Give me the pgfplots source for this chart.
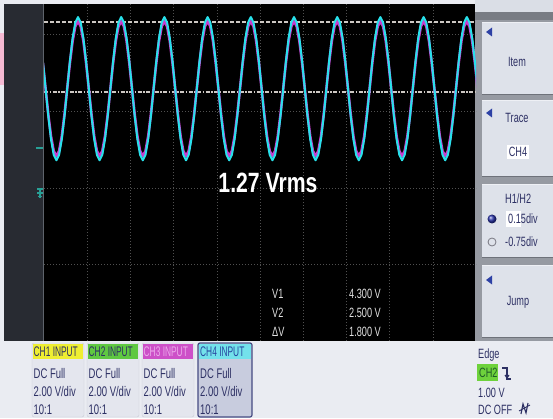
\documentclass[border=0pt]{standalone}
\usepackage{pgfplots}
\pgfplotsset{compat=1.18}
\usepackage{pgfplotstable}
\usepackage{fontspec}
\setmainfont{Liberation Sans}
\newfontfamily\narrow[FakeStretch=0.68]{Liberation Sans}
\newfontfamily\narrowh[FakeStretch=0.6]{Liberation Sans}
\newfontfamily\vrmsfont[FakeStretch=0.76]{Liberation Sans}

\definecolor{panel}{RGB}{234,236,242}
\definecolor{lstrip}{RGB}{40,43,50}
\definecolor{btn}{RGB}{222,226,234}
\definecolor{navy}{RGB}{45,48,100}
\definecolor{tcyan}{RGB}{40,225,235}
\definecolor{tmag}{RGB}{200,60,205}
\definecolor{curs}{RGB}{205,200,195}
\definecolor{gridc}{RGB}{80,80,80}
\definecolor{chA}{RGB}{238,238,50}
\definecolor{chB}{RGB}{95,200,65}
\definecolor{chC}{RGB}{205,80,200}
\definecolor{chD}{RGB}{115,225,235}
\definecolor{boxfill}{RGB}{228,230,238}
\definecolor{boxedge}{RGB}{200,202,212}
\definecolor{teal}{RGB}{40,160,150}
\definecolor{readout}{RGB}{225,225,225}
\definecolor{trig}{RGB}{45,65,165}
\definecolor{pinkbar}{RGB}{245,185,210}
\definecolor{sepline}{RGB}{95,100,108}
\definecolor{rpgray}{RGB}{150,154,162}
\definecolor{rptop}{RGB}{218,222,230}
\definecolor{rpband}{RGB}{120,124,132}
\definecolor{btnshadow}{RGB}{110,114,122}
\definecolor{btnhi}{RGB}{238,240,245}
\definecolor{chCtxt}{RGB}{235,170,235}
\definecolor{chDfill}{RGB}{200,204,222}
\definecolor{chDedge}{RGB}{70,75,130}
\definecolor{chDtxt}{RGB}{40,70,160}
\definecolor{trigbox}{RGB}{110,210,60}
\definecolor{chBtxt}{RGB}{30,90,40}
\definecolor{ballc}{RGB}{40,50,170}
\definecolor{circc}{RGB}{120,120,130}

\pgfplotstableread{
x ch4 ch3
-0.0255 2.64 2.60
0.037 1.99 1.99
0.0995 1.34 1.38
0.162 0.79 0.86
0.2245 0.42 0.51
0.287 0.29 0.39
0.3495 0.42 0.51
0.412 0.79 0.86
0.4745 1.34 1.38
0.537 1.99 1.99
0.5995 2.64 2.60
0.662 3.19 3.12
0.7245 3.56 3.47
0.787 3.69 3.59
0.8495 3.56 3.47
0.912 3.19 3.12
0.9745 2.64 2.60
1.037 1.99 1.99
1.0995 1.34 1.38
1.162 0.79 0.86
1.2245 0.42 0.51
1.287 0.29 0.39
1.3495 0.42 0.51
1.412 0.79 0.86
1.4745 1.34 1.38
1.537 1.99 1.99
1.5995 2.64 2.60
1.662 3.19 3.12
1.7245 3.56 3.47
1.787 3.69 3.59
1.8495 3.56 3.47
1.912 3.19 3.12
1.9745 2.64 2.60
2.037 1.99 1.99
2.0995 1.34 1.38
2.162 0.79 0.86
2.2245 0.42 0.51
2.287 0.29 0.39
2.3495 0.42 0.51
2.412 0.79 0.86
2.4745 1.34 1.38
2.537 1.99 1.99
2.5995 2.64 2.60
2.662 3.19 3.12
2.7245 3.56 3.47
2.787 3.69 3.59
2.8495 3.56 3.47
2.912 3.19 3.12
2.9745 2.64 2.60
3.037 1.99 1.99
3.0995 1.34 1.38
3.162 0.79 0.86
3.2245 0.42 0.51
3.287 0.29 0.39
3.3495 0.42 0.51
3.412 0.79 0.86
3.4745 1.34 1.38
3.537 1.99 1.99
3.5995 2.64 2.60
3.662 3.19 3.12
3.7245 3.56 3.47
3.787 3.69 3.59
3.8495 3.56 3.47
3.912 3.19 3.12
3.9745 2.64 2.60
4.037 1.99 1.99
4.0995 1.34 1.38
4.162 0.79 0.86
4.2245 0.42 0.51
4.287 0.29 0.39
4.3495 0.42 0.51
4.412 0.79 0.86
4.4745 1.34 1.38
4.537 1.99 1.99
4.5995 2.64 2.60
4.662 3.19 3.12
4.7245 3.56 3.47
4.787 3.69 3.59
4.8495 3.56 3.47
4.912 3.19 3.12
4.9745 2.64 2.60
5.037 1.99 1.99
5.0995 1.34 1.38
5.162 0.79 0.86
5.2245 0.42 0.51
5.287 0.29 0.39
5.3495 0.42 0.51
5.412 0.79 0.86
5.4745 1.34 1.38
5.537 1.99 1.99
5.5995 2.64 2.60
5.662 3.19 3.12
5.7245 3.56 3.47
5.787 3.69 3.59
5.8495 3.56 3.47
5.912 3.19 3.12
5.9745 2.64 2.60
6.037 1.99 1.99
6.0995 1.34 1.38
6.162 0.79 0.86
6.2245 0.42 0.51
6.287 0.29 0.39
6.3495 0.42 0.51
6.412 0.79 0.86
6.4745 1.34 1.38
6.537 1.99 1.99
6.5995 2.64 2.60
6.662 3.19 3.12
6.7245 3.56 3.47
6.787 3.69 3.59
6.8495 3.56 3.47
6.912 3.19 3.12
6.9745 2.64 2.60
7.037 1.99 1.99
7.0995 1.34 1.38
7.162 0.79 0.86
7.2245 0.42 0.51
7.287 0.29 0.39
7.3495 0.42 0.51
7.412 0.79 0.86
7.4745 1.34 1.38
7.537 1.99 1.99
7.5995 2.64 2.60
7.662 3.19 3.12
7.7245 3.56 3.47
7.787 3.69 3.59
7.8495 3.56 3.47
7.912 3.19 3.12
7.9745 2.64 2.60
8.037 1.99 1.99
8.0995 1.34 1.38
8.162 0.79 0.86
8.2245 0.42 0.51
8.287 0.29 0.39
8.3495 0.42 0.51
8.412 0.79 0.86
8.4745 1.34 1.38
8.537 1.99 1.99
8.5995 2.64 2.60
8.662 3.19 3.12
8.7245 3.56 3.47
8.787 3.69 3.59
8.8495 3.56 3.47
8.912 3.19 3.12
8.9745 2.64 2.60
9.037 1.99 1.99
9.0995 1.34 1.38
9.162 0.79 0.86
9.2245 0.42 0.51
9.287 0.29 0.39
9.3495 0.42 0.51
9.412 0.79 0.86
9.4745 1.34 1.38
9.537 1.99 1.99
9.5995 2.64 2.60
9.662 3.19 3.12
9.7245 3.56 3.47
9.787 3.69 3.59
9.8495 3.56 3.47
9.912 3.19 3.12
9.9745 2.64 2.60
10.037 1.99 1.99
}\wave

\begin{document}
\begin{tikzpicture}[x=1bp,y=1bp]
\path[use as bounding box] (0,0) rectangle (553,418);
\begin{scope}[yshift=418bp,yscale=-1]
  % backgrounds
  \fill[panel] (0,0) rectangle (553,418);
  \fill[pinkbar] (0,33) rectangle (4,85);
  \fill[lstrip] (4,4) rectangle (43,341);
  \fill[sepline] (43,4) rectangle (44,341);
  \fill[black] (44,4) rectangle (476,341);
  % right panel
  \fill[rpgray] (475,0) rectangle (553,341);
  \fill[rptop] (475,0) rectangle (553,12);
  \fill[rpband] (475,12) rectangle (553,20);
  \foreach \ya/\yb in {22/94,100/176,184/257,265/337}{
    \fill[btnshadow] (482,\ya+1) rectangle (553,\yb+1);
    \fill[btn] (482,\ya) rectangle (553,\yb);
    \fill[btnhi] (482,\ya) rectangle (553,\ya+1.2);
  }
  \foreach \yt in {32,113,280}{
    \fill[trig] (486,\yt) -- (492,\yt-4.5) -- (492,\yt+4.5) -- cycle;
  }
  % left markers
  \draw[teal,line width=2bp] (36,148) -- (43,148);
  \draw[teal,line width=1.3bp] (37,189) -- (43,189) (40,189) -- (40,198) (37,193) -- (43,193) (38,196.5) -- (42,196.5);
  % channel boxes
  \foreach \xa/\col/\lab/\tc in {32/chA/CH1/navy,87/chB/CH2/navy,142/chC/CH3/chCtxt}{
    \filldraw[fill=boxfill,draw=boxedge,rounded corners=2bp] (\xa,343) rectangle (\xa+52,417);
    \fill[\col] (\xa+1,343.5) rectangle (\xa+51,359);
    \node[anchor=base west,inner sep=0,text=\tc,font=\narrowh\fontsize{14}{14}\selectfont] at (\xa+1.5,356.5) {\lab\ INPUT};
    \node[anchor=base west,inner sep=0,text=navy,font=\narrow\fontsize{14}{14}\selectfont] at (\xa+1.5,378) {DC Full};
    \node[anchor=base west,inner sep=0,text=navy,font=\narrow\fontsize{14}{14}\selectfont] at (\xa+1.5,396.5) {2.00 V/div};
    \node[anchor=base west,inner sep=0,text=navy,font=\narrow\fontsize{14}{14}\selectfont] at (\xa+1.5,414) {10:1};
  }
  \filldraw[fill=chDfill,draw=chDedge,line width=1.2bp,rounded corners=2bp] (198,343) rectangle (252,417);
  \fill[chD] (199,344) rectangle (251,359);
  \node[anchor=base west,inner sep=0,text=chDtxt,font=\narrowh\fontsize{14}{14}\selectfont] at (200,356.5) {CH4 INPUT};
  \node[anchor=base west,inner sep=0,text=navy,font=\narrow\fontsize{14}{14}\selectfont] at (200,378) {DC Full};
  \node[anchor=base west,inner sep=0,text=navy,font=\narrow\fontsize{14}{14}\selectfont] at (200,396.5) {2.00 V/div};
  \node[anchor=base west,inner sep=0,text=navy,font=\narrow\fontsize{14}{14}\selectfont] at (200,414) {10:1};
  % right panel texts
  \begin{scope}[every node/.style={text=navy,font=\narrow\fontsize{13.5}{13.5}\selectfont}]
    \node at (517,62) {Item};
    \node at (517,118) {Trace};
    \node[fill=white,inner sep=2bp] at (518,152) {CH4};
    \node[anchor=west,inner sep=0] at (505,199) {H1/H2};
    \fill[white] (506,211) rectangle (521,227);
    \node[anchor=west,inner sep=0] at (508,219) {0.15div};
    \node[anchor=west,inner sep=0] at (505,242) {-0.75div};
    \node at (518,302) {Jump};
    \node[anchor=base west,inner sep=0] at (478,358) {Edge};
    \fill[trigbox] (477,364) rectangle (498,381);
    \node[anchor=base west,inner sep=0,text=chBtxt] at (479,377) {CH2};
    \node[anchor=base west,inner sep=0] at (478,397) {1.00 V};
    \node[anchor=base west,inner sep=0] at (478,414) {DC OFF};
  \end{scope}
  \shade[ball color=ballc] (492,219) circle (4.5);
  \draw[circc,line width=0.8bp] (492,242) circle (4);
  \draw[navy,line width=1.1bp] (502,368) -- (507,368) -- (507,379) -- (511,379);
  \draw[navy,line width=1.1bp] (505,375) -- (507,378) -- (509,375);
  \draw[navy,line width=1.1bp] (521,414) -- (523,404) -- (526,413) -- (528,403);
  \draw[navy,line width=0.9bp] (519,411) -- (530,405);
\end{scope}

\begin{axis}[at={(44bp,77bp)},anchor=south west,scale only axis,
  width=432bp,height=337bp,xmin=0,xmax=10,ymin=-4,ymax=4,
  axis line style={draw=none},
  xtick={1,2,3,4,5,6,7,8,9},ytick={-2.17,-0.37,1.46,3.29},
  xticklabels={,,,,,,,,,},yticklabels={,,,,},
  tick label style={opacity=0},major tick length=0pt,
  grid=major,grid style={gridc,dash pattern=on 1bp off 2bp,line width=0.6bp},
  clip=true]
  \addplot[curs,line width=1.6bp,dash pattern=on 4bp off 2bp] coordinates {(0,3.57) (10,3.57)};
  \addplot[curs,line width=1.6bp,dash pattern=on 4bp off 1.5bp on 1.5bp off 1.5bp] coordinates {(0,1.91) (10,1.91)};
  \addplot[tmag,line width=2.6bp,line join=round] table[x=x,y=ch3] {\wave};
  \addplot[tcyan,line width=2bp,line join=round] table[x=x,y=ch4] {\wave};
\end{axis}

\begin{scope}[yshift=418bp,yscale=-1]
  \node[anchor=base,inner sep=0,text=white,font=\vrmsfont\bfseries\fontsize{28}{28}\selectfont] at (268,193) {1.27 Vrms};
  \begin{scope}[every node/.style={anchor=base west,inner sep=0,text=readout,font=\narrow\fontsize{13.5}{13.5}\selectfont}]
    \node at (272,298) {V1};
    \node at (349,298) {4.300 V};
    \node at (272,317) {V2};
    \node at (349,317) {2.500 V};
    \node at (272,336) {ΔV};
    \node at (349,336) {1.800 V};
  \end{scope}
\end{scope}
\end{tikzpicture}
\end{document}
